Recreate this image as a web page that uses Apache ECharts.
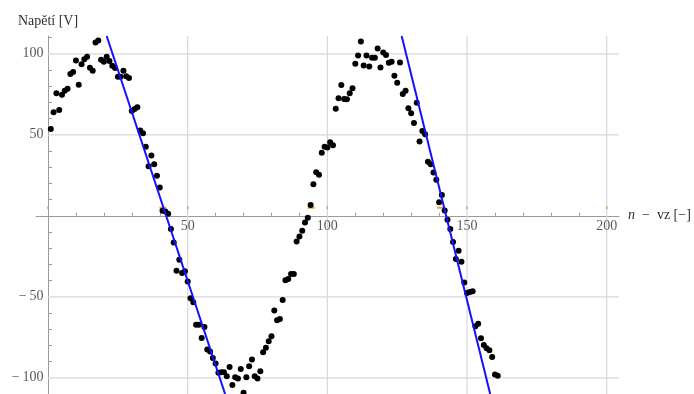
<!DOCTYPE html>
<html>
<head>
<meta charset="utf-8">
<script src="https://cdn.jsdelivr.net/npm/echarts@6/dist/echarts.min.js"></script>
<style>
  html, body { margin: 0; padding: 0; background: #ffffff; }
  #chart { width: 694px; height: 394px; }
</style>
</head>
<body>
<div id="chart"></div>
<script>
// Measured voltage for samples n = 1, 2, 3, ...
const voltage = [
  53.6, 63.9, 75.6, 65.3, 74.7, 77.2, 78.4, 87.5, 88.7, 95.9,
  80.9, 93.5, 96.7, 98.2, 91.4, 89.5, 107.0, 108.2, 96.4, 95.1,
  98.2, 95.5, 92.6, 91.2, 85.8, 85.8, 89.5, 86.1, 85.0, 64.7,
  65.9, 67.0, 52.6, 50.9, 42.7, 30.6, 37.2, 31.8, 24.8, 17.4,
  3.1, 2.7, 1.2, -8.2, -16.4, -33.9, -27.1, -35.3, -34.3, -40.5,
  -50.9, -53.4, -67.2, -67.2, -75.4, -68.6, -82.6, -83.8, -87.7, -91.2,
  -96.9, -96.5, -96.5, -99.0, -93.4, -104.5, -99.6, -100.4, -94.5, -109.3,
  -99.6, -92.8, -88.7, -99.0, -100.4, -95.9, -84.2, -81.5, -77.4, -74.4,
  -58.5, -64.5, -63.7, -51.9, -39.8, -39.0, -35.9, -35.9, -15.8, -12.7,
  -9.2, -4.1, -1.2, 6.6, 19.5, 26.9, 25.3, 39.0, 42.7, 42.1,
  45.4, 43.6, 66.1, 72.5, 80.7, 72.1, 71.9, 75.6, 78.7, 93.8,
  99.0, 107.6, 92.8, 99.0, 92.2, 97.5, 97.5, 103.3, 91.6, 100.8,
  99.2, 94.5, 95.1, 86.4, 82.1, 94.7, 75.2, 77.2, 66.4, 63.3,
  57.3, 69.8, 45.8, 52.4, 50.3, 33.3, 31.8, 26.7, 22.2, 8.4,
  12.9, 3.3, -2.5, -8.2, -16.2, -26.7, -21.6, -28.3, -41.1, -47.6,
  -47.0, -46.6, -68.2, -66.7, -75.6, -79.7, -81.7, -83.0, -87.1, -98.0,
  -98.8
];

// Straight fits through the two falling edges (end points, [n, U])
const fitFirst = [[21.0, 111], [63.4, -110]];
const fitSecond = [[126.6, 111], [158.3, -110]];

// Small orange markers sitting just above the n axis
const orangeDots = [[0, 5], [50, 5], [100, 5], [150, 5], [200, 5]];
const orangeDashes = [[41.1, 5], [94.2, 5], [140.5, 5]];

// Axis ranges, grid line values and tick label values
const xRange = [-4.3, 204.4];
const yRange = [-110, 111];
const xGridValues = [50, 100, 150, 200];
const yGridValues = [-100, -50, 50, 100];
const xTickLabels = [50, 100, 150, 200];
const yTickLabels = [100, 50, -50, -100];

const points = voltage.map((v, i) => [i + 1, v]);

const serif = 'Liberation Serif';
const axisGray = '#9a9a9a';
const textColor = '#2e2e2e';
const gridColor = '#d8d8d8';
const orange = '#e9a13b';

// Grid lines are plain line series so they stay underneath the data
const gridSeries = [];
xGridValues.forEach(x => gridSeries.push({
  type: 'line', data: [[x, yRange[0]], [x, yRange[1]]],
  symbol: 'none', silent: true, z: 0,
  lineStyle: { color: gridColor, width: 1.2 }
}));
yGridValues.forEach(y => gridSeries.push({
  type: 'line', data: [[0, y], [xRange[1], y]],
  symbol: 'none', silent: true, z: 0,
  lineStyle: { color: gridColor, width: 1.2 }
}));

// Tick numbers drawn next to the axes that cross at the origin
const labelFont = { fontFamily: serif, fontSize: 14, color: textColor };
const xLabelSeries = {
  type: 'scatter', silent: true, z: 2,
  data: xTickLabels.map(x => [x, 0]),
  symbolSize: 1, itemStyle: { color: 'rgba(0,0,0,0)' },
  label: Object.assign({
    show: true, position: 'bottom', distance: 3,
    formatter: p => String(p.value[0])
  }, labelFont)
};
const yLabelSeries = {
  type: 'scatter', silent: true, z: 2,
  data: yTickLabels.map(y => [0, y]),
  symbolSize: 1, itemStyle: { color: 'rgba(0,0,0,0)' },
  label: Object.assign({
    show: true, position: 'left', distance: 4,
    formatter: p => p.value[1] < 0 ? '\u2212\u2009' + Math.abs(p.value[1]) : String(p.value[1])
  }, labelFont)
};

const chart = echarts.init(document.getElementById('chart'), null, { renderer: 'canvas' });

chart.setOption({
  animation: false,
  backgroundColor: '#ffffff',
  grid: { left: 36, right: 75, top: 36, bottom: 0, containLabel: false, outerBoundsMode: 'none' },
  xAxis: {
    type: 'value',
    min: xRange[0],
    max: xRange[1],
    name: '{i|n}  −  vz [−]',
    nameLocation: 'end',
    nameGap: 9,
    nameTextStyle: {
      fontFamily: serif, fontSize: 14, color: textColor, verticalAlign: 'middle',
      rich: { i: { fontFamily: serif, fontSize: 14, fontStyle: 'italic', color: textColor } }
    },
    axisLine: { onZero: true, lineStyle: { color: axisGray, width: 1 } },
    axisTick: { show: false, inside: true },
    minorTick: { show: true, splitNumber: 5, length: 3, lineStyle: { color: axisGray, width: 1 } },
    splitLine: { show: false },
    minorSplitLine: { show: false },
    axisLabel: { show: false }
  },
  yAxis: {
    type: 'value',
    min: yRange[0],
    max: yRange[1],
    name: 'Napětí [V]',
    nameLocation: 'end',
    nameGap: 8,
    nameTextStyle: { fontFamily: serif, fontSize: 14, color: textColor, align: 'center' },
    axisLine: { onZero: true, lineStyle: { color: axisGray, width: 1 } },
    axisTick: { show: false, inside: true },
    minorTick: { show: true, splitNumber: 5, length: 4, lineStyle: { color: axisGray, width: 1 } },
    splitLine: { show: false },
    minorSplitLine: { show: false },
    axisLabel: { show: false }
  },
  series: gridSeries.concat([
    xLabelSeries,
    yLabelSeries,
    {
      name: 'orangeDots',
      type: 'scatter',
      data: orangeDots,
      symbol: 'rect',
      symbolSize: [1.5, 3],
      itemStyle: { color: orange, opacity: 1 },
      z: 1,
      silent: true
    },
    {
      name: 'orangeDashes',
      type: 'scatter',
      data: orangeDashes,
      symbol: 'rect',
      symbolSize: [7, 2],
      itemStyle: { color: orange, opacity: 1 },
      z: 1,
      silent: true
    },
    {
      name: 'U',
      type: 'scatter',
      data: points,
      symbol: 'circle',
      symbolSize: 6,
      itemStyle: { color: '#000000', opacity: 1 },
      z: 3,
      silent: true
    },
    {
      name: 'fit1',
      type: 'line',
      data: fitFirst,
      symbol: 'none',
      lineStyle: { color: '#1212ff', width: 2 },
      clip: true,
      z: 4,
      silent: true
    },
    {
      name: 'fit2',
      type: 'line',
      data: fitSecond,
      symbol: 'none',
      lineStyle: { color: '#1212ff', width: 2 },
      clip: true,
      z: 4,
      silent: true
    }
  ])
});
</script>
</body>
</html>
